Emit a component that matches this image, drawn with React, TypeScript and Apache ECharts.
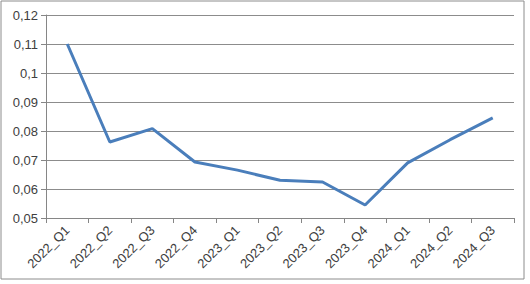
import React, { useEffect, useRef } from "react";
import * as echarts from "echarts";

const categories = ["2022_Q1", "2022_Q2", "2022_Q3", "2022_Q4", "2023_Q1", "2023_Q2", "2023_Q3", "2023_Q4", "2024_Q1", "2024_Q2", "2024_Q3"];
const values = [0.11, 0.0762, 0.0808, 0.0693, 0.0665, 0.0630, 0.0624, 0.0545, 0.0690, 0.0770, 0.0845];

export default function App() {
  const ref = useRef<HTMLDivElement>(null);
  useEffect(() => {
    const chart = echarts.init(ref.current!, null, { renderer: "svg" });
    chart.setOption({
      animation: false,
      backgroundColor: "#ffffff",
      graphic: [
        {
          type: "rect",
          shape: { x: 1, y: 1, width: 523, height: 278 },
          style: { fill: "none", stroke: "#8c8c8c", lineWidth: 1 },
          silent: true,
        },
      ],
      grid: { left: 46, right: 16, top: 15, bottom: 66 },
      xAxis: {
        type: "category",
        data: categories,
        boundaryGap: true,
        axisLine: { show: true, lineStyle: { color: "#868686", width: 1 } },
        axisTick: { show: true, alignWithLabel: false, length: 5, lineStyle: { color: "#868686" } },
        axisLabel: { rotate: 45, color: "#404040", fontFamily: "Liberation Sans", fontSize: 13, margin: 10 },
        splitLine: { show: false },
      },
      yAxis: {
        type: "value",
        min: 0.05,
        max: 0.12,
        interval: 0.01,
        axisLine: { show: true, lineStyle: { color: "#868686", width: 1 } },
        axisTick: { show: true, length: 5, lineStyle: { color: "#868686" } },
        axisLabel: {
          color: "#404040",
          fontFamily: "Liberation Sans",
          fontSize: 13,
          margin: 8,
          formatter: (v: number) => String(Math.round(v * 100) / 100).replace(".", ","),
        },
        splitLine: { show: true, lineStyle: { color: "#8c8c8c", width: 1 } },
      },
      series: [
        {
          type: "line",
          data: values,
          symbol: "none",
          lineStyle: { color: "#4a7ebb", width: 3 },
          itemStyle: { color: "#4a7ebb" },
        },
      ],
    });
    return () => chart.dispose();
  }, []);
  return <div ref={ref} style={{ position: "fixed", left: 0, top: 0, width: 530, height: 284 }} />;
}
